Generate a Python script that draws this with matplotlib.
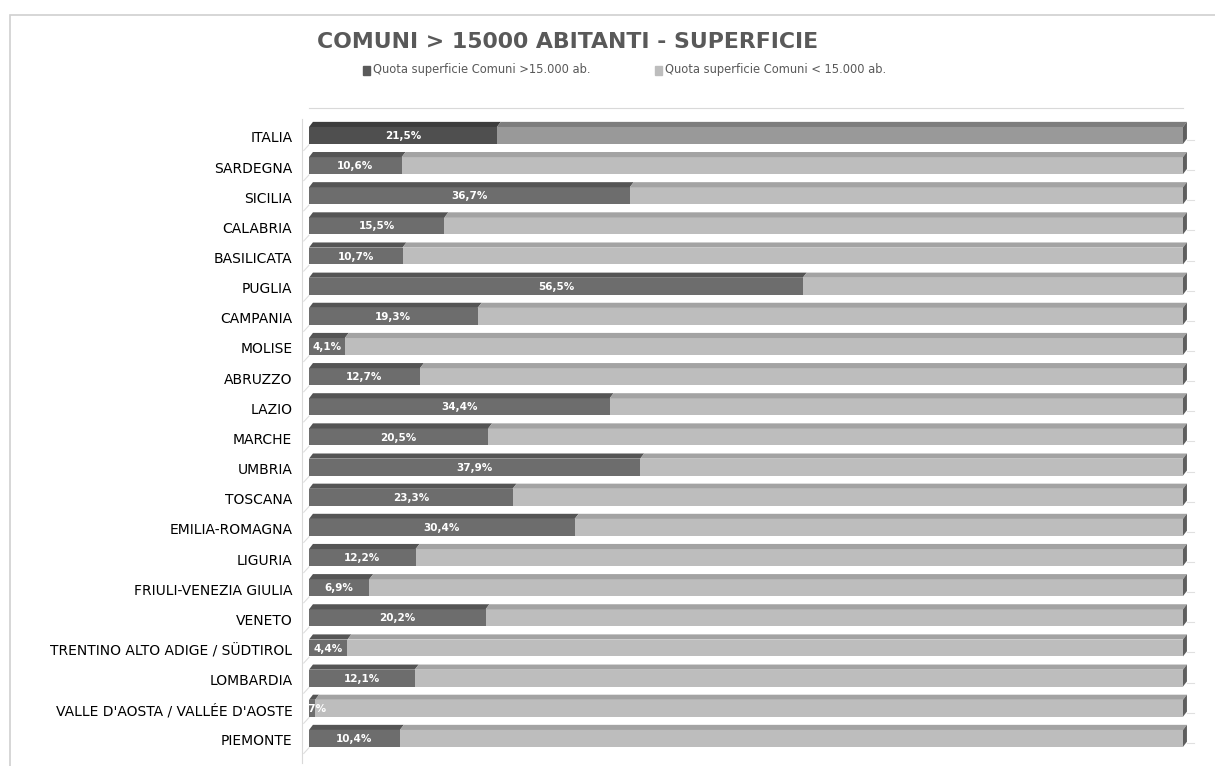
import matplotlib.pyplot as plt
import numpy as np
from matplotlib.patches import Rectangle, Polygon

# dati (dal basso verso l'alto, come nel grafico)
regioni = ["PIEMONTE", "VALLE D'AOSTA / VALLÉE D'AOSTE", "LOMBARDIA",
           "TRENTINO ALTO ADIGE / SÜDTIROL", "VENETO", "FRIULI-VENEZIA GIULIA",
           "LIGURIA", "EMILIA-ROMAGNA", "TOSCANA", "UMBRIA", "MARCHE", "LAZIO",
           "ABRUZZO", "MOLISE", "CAMPANIA", "PUGLIA", "BASILICATA", "CALABRIA",
           "SICILIA", "SARDEGNA", "ITALIA"]
quota_grandi = [10.4, 0.7, 12.1, 4.4, 20.2, 6.9, 12.2, 30.4, 23.3, 37.9, 20.5,
                34.4, 12.7, 4.1, 19.3, 56.5, 10.7, 15.5, 36.7, 10.6, 21.5]
etichette = ["10,4%", "0,7%", "12,1%", "4,4%", "20,2%", "6,9%", "12,2%", "30,4%",
             "23,3%", "37,9%", "20,5%", "34,4%", "12,7%", "4,1%", "19,3%", "56,5%",
             "10,7%", "15,5%", "36,7%", "10,6%", "21,5%"]
quota_piccoli = [100 - v for v in quota_grandi]

titolo = "COMUNI > 15000 ABITANTI - SUPERFICIE"
leg1 = "Quota superficie Comuni >15.000 ab."
leg2 = "Quota superficie Comuni < 15.000 ab."

#---------------------------------------------------------------------------------------------------
fig = plt.figure(figsize=(12.15, 7.66), dpi=100)
fig.patches.append(Rectangle((10/1215, -0.05), 1.1, 1 - 15/766 + 0.05,
                             transform=fig.transFigure, fill=False,
                             edgecolor="#d0d0d0", linewidth=1.2))

ax = fig.add_axes([309/1215, 8/766, 874/1215, 650/766])

y = np.arange(len(regioni))
h = 0.56          # altezza faccia frontale
yc = y + 0.05     # centro faccia frontale
top_h = 0.17      # spessore faccia superiore (effetto 3D)
dx = 0.45         # spostamento orizzontale della faccia superiore

scuro = ["#6d6d6d"] * len(y)
chiaro = ["#bdbdbd"] * len(y)
scuro_top = ["#555555"] * len(y)
chiaro_top = ["#a3a3a3"] * len(y)
scuro[-1], chiaro[-1] = "#4f4f4f", "#999999"
scuro_top[-1], chiaro_top[-1] = "#3d3d3d", "#7d7d7d"

ax.barh(yc, quota_grandi, height=h, color=scuro, linewidth=0)
ax.barh(yc, quota_piccoli, left=quota_grandi, height=h, color=chiaro, linewidth=0)

for i in range(len(y)):
    v = quota_grandi[i]
    y1 = yc[i] + h / 2     # bordo alto faccia frontale
    y0 = yc[i] - h / 2
    # faccia superiore
    ax.add_patch(Polygon([(0, y1), (v, y1), (v + dx, y1 + top_h), (dx, y1 + top_h)],
                         closed=True, facecolor=scuro_top[i], linewidth=0))
    ax.add_patch(Polygon([(v, y1), (100, y1), (100 + dx, y1 + top_h), (v + dx, y1 + top_h)],
                         closed=True, facecolor=chiaro_top[i], linewidth=0, clip_on=False))
    # faccia laterale destra
    ax.add_patch(Polygon([(100, y1), (100 + dx, y1 + top_h), (100 + dx, y0 + top_h),
                          (100, y0)], closed=True, facecolor="#5e5e5e", linewidth=0,
                         clip_on=False))
    ax.plot([100 + dx, 100 + 2.8 * dx], [y0 + top_h - 0.04, y0 + top_h - 0.04],
            color="#e0e0e0", linewidth=0.8, clip_on=False)
    # piccole diagonali della parete sinistra
    ax.plot([-0.6, 0], [y0 - 0.22, y0 - 0.03], color="#dedede", linewidth=0.8,
            clip_on=False)
    ax.text(v / 2, yc[i] - 0.02, etichette[i], ha="center", va="center", color="white",
            fontsize=7.5, fontweight="bold", clip_on=True)

ax.set_xlim(0, 100)
ax.set_ylim(-0.6, 20.96)
ax.set_xticks([])
ax.set_yticks(y)
ax.set_yticklabels(regioni, fontsize=9.7, color="#7a7a7a")
ax.tick_params(axis="y", length=0, pad=7)
for s in ["right", "bottom"]:
    ax.spines[s].set_visible(False)
ax.spines["top"].set_color("#d9d9d9")
ax.spines["left"].set_color("#d9d9d9")
ax.spines["left"].set_position(("outward", 5))
ax.spines["left"].set_bounds(-0.75, 20.6)

fig.text(568/1215, 1 - 42/766, titolo, ha="center", va="center", fontsize=15.8,
         fontweight="bold", color="#595959")
fig.patches.append(Rectangle((363/1215, 1 - 75/766), 7/1215, 9/766,
                             transform=fig.transFigure, color="#5a5a5a"))
fig.text(373/1215, 1 - 70/766, leg1, ha="left", va="center", fontsize=8.3, color="#595959")
fig.patches.append(Rectangle((655/1215, 1 - 75/766), 7/1215, 9/766,
                             transform=fig.transFigure, color="#bdbdbd"))
fig.text(665/1215, 1 - 70/766, leg2, ha="left", va="center", fontsize=8.3, color="#595959")

fig.savefig("out.png", dpi=100)
